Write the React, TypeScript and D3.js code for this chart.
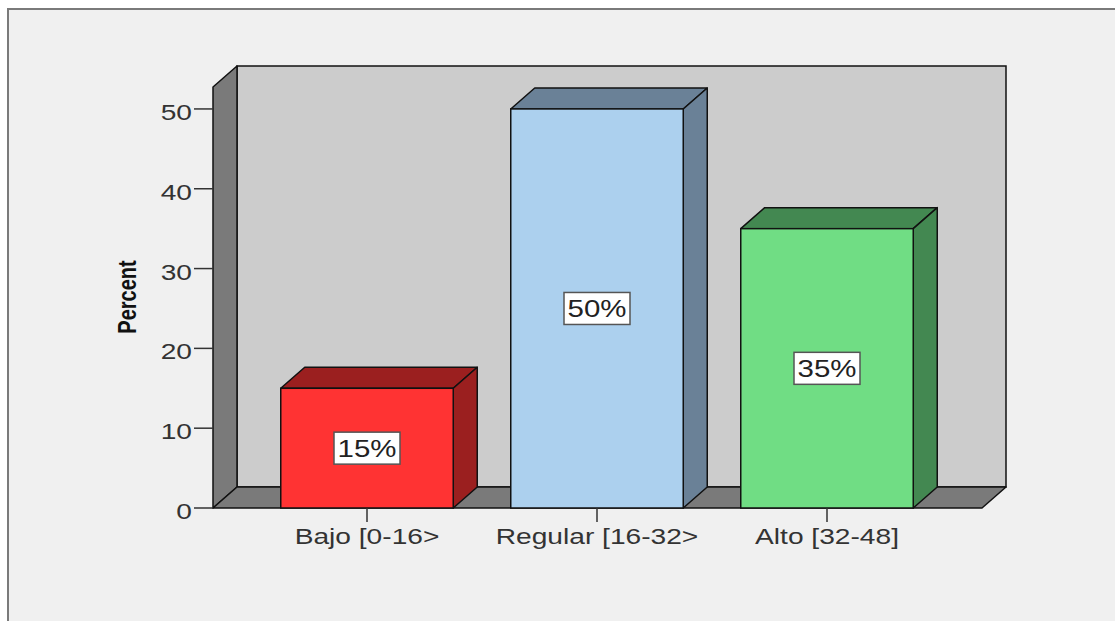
import React from "react";
import * as d3 from "d3";

// Category labels, percentages and fills for the three score bands
const categories: string[] = ["Bajo [0-16>", "Regular [16-32>", "Alto [32-48]"];
const percents: number[] = [15, 50, 35];
const frontColors: string[] = ["#ff3333", "#acd0ee", "#70dd84"];
const sideColors: string[] = ["#9b1f1f", "#6a8197", "#438851"];
const yTicks: number[] = [0, 10, 20, 30, 40, 50];
const yMax = 52.75;

const W = 1115;
const H = 621;

// 3D depth offset of the box
const DX = 24;
const DY = 21;

// front plane of the plot
const left = 213;
const right = 982;
const bottom = 508;
const top = 87;

// text is drawn with a horizontal stretch
const SX = 1.28;
const FONT = "'Liberation Sans', Arial, sans-serif";

export default function App() {
  const y = d3.scaleLinear().domain([0, yMax]).range([bottom, top]);
  const x = d3
    .scaleBand<string>()
    .domain(categories)
    .range([252, 942])
    .paddingInner(0.25)
    .paddingOuter(0.125);

  const pts = (p: [number, number][]) => p.map((q) => q.join(",")).join(" ");

  return (
    <svg
      width={W}
      height={H}
      style={{ position: "absolute", left: 0, top: 0, background: "#ffffff" }}
    >
      {/* outer frame */}
      <rect x={8} y={9} width={W + 20} height={H + 20} fill="#f0f0f0" stroke="#7a7a7a" strokeWidth={2} />

      {/* back wall */}
      <rect
        x={left + DX}
        y={top - DY}
        width={right - left}
        height={bottom - top}
        fill="#cccccc"
        stroke="#111"
        strokeWidth={1.5}
      />
      {/* left wall */}
      <polygon
        points={pts([
          [left, bottom],
          [left, top],
          [left + DX, top - DY],
          [left + DX, bottom - DY],
        ])}
        fill="#7a7a7a"
        stroke="#111"
        strokeWidth={1.5}
        strokeLinejoin="round"
      />
      {/* floor */}
      <polygon
        points={pts([
          [left, bottom],
          [right, bottom],
          [right + DX, bottom - DY],
          [left + DX, bottom - DY],
        ])}
        fill="#7a7a7a"
        stroke="#111"
        strokeWidth={1.5}
        strokeLinejoin="round"
      />

      {/* bars */}
      {categories.map((c, i) => {
        const x0 = x(c)!;
        const x1 = x0 + x.bandwidth();
        const yv = y(percents[i]);
        const cx = x0 + x.bandwidth() / 2;
        const cy = (yv + bottom) / 2;
        const label = `${percents[i]}%`;
        return (
          <g key={c}>
            <polygon
              points={pts([
                [x0, yv],
                [x0 + DX, yv - DY],
                [x1 + DX, yv - DY],
                [x1, yv],
              ])}
              fill={sideColors[i]}
              stroke="#111"
              strokeWidth={1.5}
              strokeLinejoin="round"
            />
            <polygon
              points={pts([
                [x1, yv],
                [x1 + DX, yv - DY],
                [x1 + DX, bottom - DY],
                [x1, bottom],
              ])}
              fill={sideColors[i]}
              stroke="#111"
              strokeWidth={1.5}
              strokeLinejoin="round"
            />
            <rect
              x={x0}
              y={yv}
              width={x1 - x0}
              height={bottom - yv}
              fill={frontColors[i]}
              stroke="#111"
              strokeWidth={1.5}
            />
            <rect
              x={cx - 33}
              y={cy - 16}
              width={66}
              height={32}
              fill="#ffffff"
              stroke="#555"
              strokeWidth={1.5}
            />
            <text
              transform={`translate(${cx},${cy + 9}) scale(${SX},1)`}
              textAnchor="middle"
              fontFamily={FONT}
              fontSize={23}
              fill="#222"
            >
              {label}
            </text>
            {/* category tick and label */}
            <line x1={cx} x2={cx} y1={bottom} y2={522} stroke="#333" strokeWidth={1.5} />
            <text
              transform={`translate(${cx},544) scale(${SX},1)`}
              textAnchor="middle"
              fontFamily={FONT}
              fontSize={22}
              fill="#333"
            >
              {c}
            </text>
          </g>
        );
      })}

      {/* y axis ticks */}
      {yTicks.map((t) => (
        <g key={t}>
          <line x1={194} x2={left} y1={y(t)} y2={y(t)} stroke="#333" strokeWidth={1.5} />
          <text
            transform={`translate(192,${y(t) + 11}) scale(${SX},1)`}
            textAnchor="end"
            fontFamily={FONT}
            fontSize={22}
            fill="#333"
          >
            {t}
          </text>
        </g>
      ))}

      {/* y axis title */}
      <text
        transform={`translate(136,297) scale(${SX},1) rotate(-90)`}
        textAnchor="middle"
        fontFamily={FONT}
        fontSize={20}
        fontWeight="bold"
        fill="#111"
      >
        Percent
      </text>
    </svg>
  );
}
